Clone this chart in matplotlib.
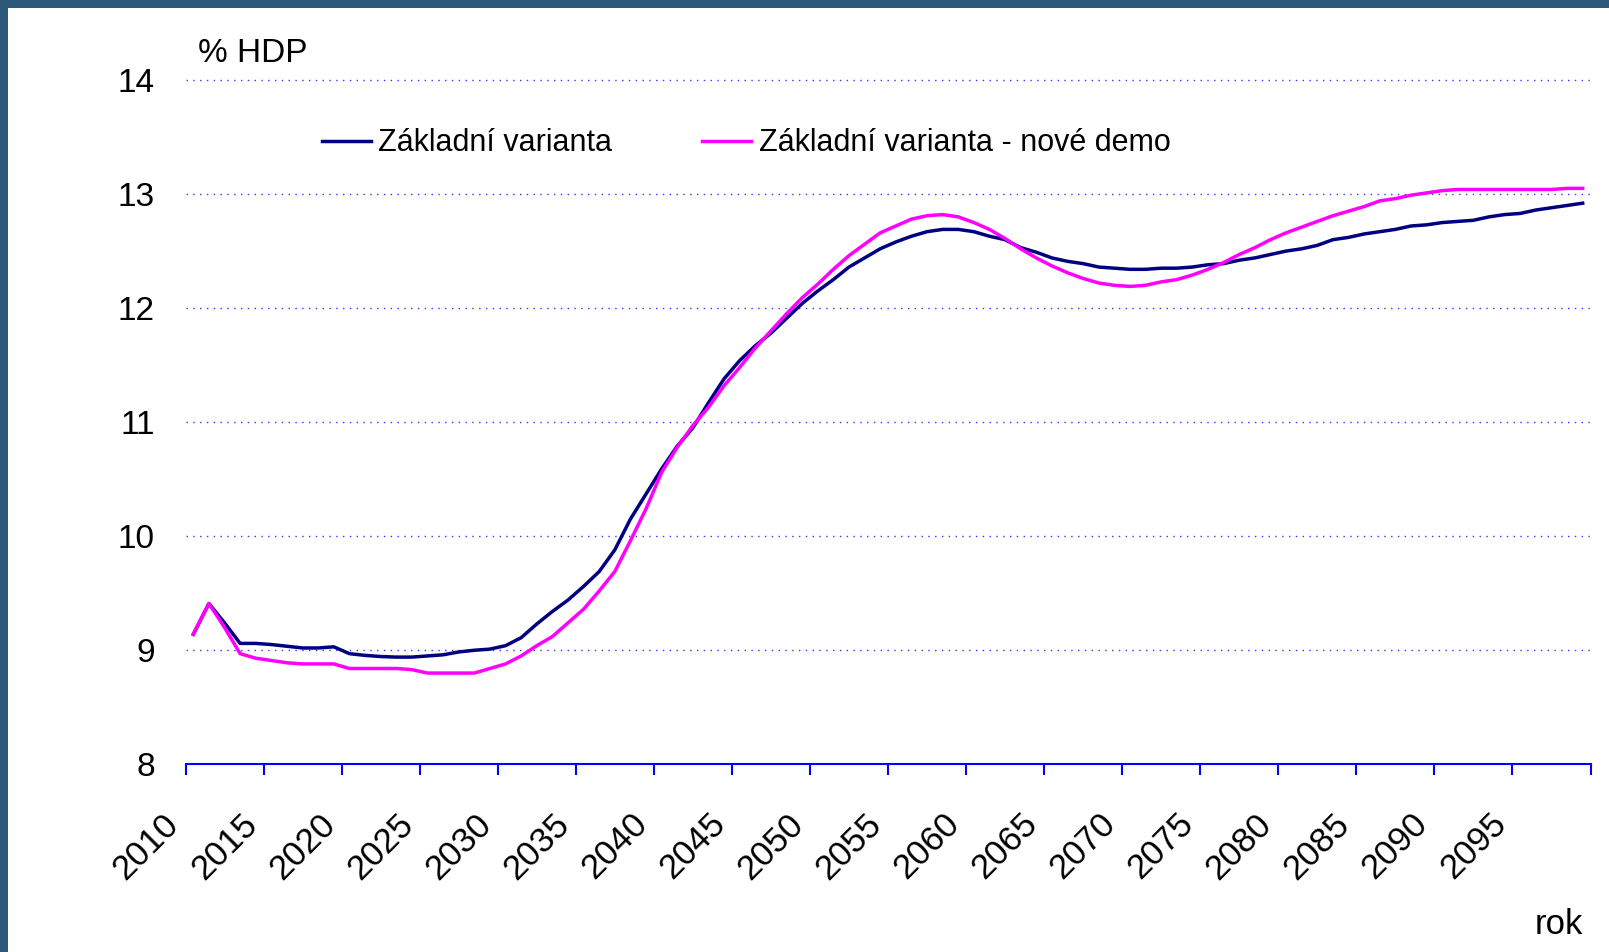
import matplotlib
matplotlib.use("Agg")
import matplotlib.pyplot as plt
from matplotlib.patches import Rectangle
import matplotlib.transforms as mtransforms
import numpy as np

plt.rcParams['font.family'] = ['Liberation Sans', 'DejaVu Sans']

years = list(range(2010, 2100))

zakladni = [
    9.14, 9.41, 9.24, 9.06, 9.06, 9.05, 9.035, 9.02, 9.02, 9.03,
    8.97, 8.955, 8.945, 8.94, 8.94, 8.95, 8.96, 8.985, 9.00, 9.01,
    9.04, 9.11, 9.23, 9.34, 9.44, 9.56, 9.69, 9.88, 10.15, 10.37,
    10.59, 10.79, 10.95, 11.17, 11.38, 11.54, 11.67, 11.78, 11.91, 12.04,
    12.15, 12.25, 12.36, 12.44, 12.52, 12.58, 12.63, 12.67, 12.69, 12.69,
    12.67, 12.63, 12.60, 12.53, 12.49, 12.44, 12.41, 12.39, 12.36, 12.35,
    12.34, 12.34, 12.35, 12.35, 12.36, 12.38, 12.39, 12.42, 12.44, 12.47,
    12.50, 12.52, 12.55, 12.60, 12.62, 12.65, 12.67, 12.69, 12.72, 12.73,
    12.75, 12.76, 12.77, 12.80, 12.82, 12.83, 12.86, 12.88, 12.90, 12.92,
]

nove_demo = [
    9.14, 9.41, 9.20, 8.97, 8.93, 8.91, 8.89, 8.88, 8.88, 8.88,
    8.84, 8.84, 8.84, 8.84, 8.83, 8.80, 8.80, 8.80, 8.80, 8.84,
    8.88, 8.95, 9.04, 9.12, 9.24, 9.36, 9.52, 9.69, 9.96, 10.24,
    10.56, 10.78, 10.97, 11.13, 11.32, 11.48, 11.65, 11.80, 11.95, 12.09,
    12.21, 12.34, 12.46, 12.56, 12.66, 12.72, 12.78, 12.81, 12.82, 12.80,
    12.75, 12.69, 12.61, 12.52, 12.44, 12.37, 12.31, 12.26, 12.22, 12.20,
    12.19, 12.20, 12.23, 12.25, 12.29, 12.34, 12.40, 12.47, 12.53, 12.60,
    12.66, 12.71, 12.76, 12.81, 12.85, 12.89, 12.94, 12.96, 12.99, 13.01,
    13.03, 13.04, 13.04, 13.04, 13.04, 13.04, 13.04, 13.04, 13.05, 13.05,
]

series_labels = ["Základní varianta", "Základní varianta - nové demo"]
y_ticks = [8, 9, 10, 11, 12, 13, 14]
x_tick_years = list(range(2010, 2101, 5))
x_tick_labels = [str(y) for y in range(2010, 2100, 5)] + [""]

W, H = 1609, 952
fig = plt.figure(figsize=(W / 100, H / 100), dpi=100)
fig.patch.set_facecolor('#2b5878')
bg = Rectangle((8 / W, 0), 1 - 8 / W, 1 - 8 / H, transform=fig.transFigure,
               facecolor='white', edgecolor='none', zorder=-10)
fig.add_artist(bg)

left, right = 185.5, 1590.5
top, bottom = 80.0, 764.3
ax = fig.add_axes([left / W, 1 - bottom / H, (right - left) / W, (bottom - top) / H])
ax.set_facecolor('none')
ax.set_zorder(1)

xpos = np.array(years) + 0.5
ax.plot(xpos, zakladni, color='#000080', lw=2.5, label=series_labels[0], zorder=3)
ax.plot(xpos, nove_demo, color='#ff00ff', lw=2.5, label=series_labels[1], zorder=3)

ax.set_xlim(2010, 2100)
ax.set_ylim(8, 14)

for v in y_ticks[1:]:
    ax.axhline(v, color='#3333ff', lw=1.0, linestyle=(0, (1, 3.9)), zorder=1, clip_on=False)

for s in ['top', 'right', 'left']:
    ax.spines[s].set_visible(False)
ax.spines['bottom'].set_color('#0000ff')
ax.spines['bottom'].set_linewidth(1.5)

ax.set_yticks(y_ticks)
ax.set_yticklabels([str(v) for v in y_ticks])
ax.tick_params(axis='y', length=0, pad=22, labelsize=24)

ax.set_xticks(x_tick_years)
ax.set_xticklabels(x_tick_labels, rotation=45, ha='right', va='top')
ax.tick_params(axis='x', direction='out', length=8, width=1.5, color='#0000ff',
               pad=23, labelsize=25)
offset = mtransforms.ScaledTranslation(0, 0, fig.dpi_scale_trans)
for lbl in ax.get_xticklabels():
    lbl.set_transform(lbl.get_transform() + offset)

leg = ax.legend(loc='center left', bbox_to_anchor=((321.7 - left) / (right - left),
                                                   (bottom - 143.3) / (bottom - top)),
                ncol=2, frameon=False, fontsize=22, handlelength=1.6, handletextpad=0.25,
                columnspacing=2.95, borderpad=0, borderaxespad=0)
for line in leg.get_lines():
    line.set_linewidth(2.5)

fig.text(198 / W, 1 - 53.8 / H, "% HDP", fontsize=24, ha='left', va='center')
fig.text(1583 / W, 1 - 925 / H, "rok", fontsize=25, ha='right', va='center')

fig.savefig("out.png", dpi=100, facecolor=fig.get_facecolor())
